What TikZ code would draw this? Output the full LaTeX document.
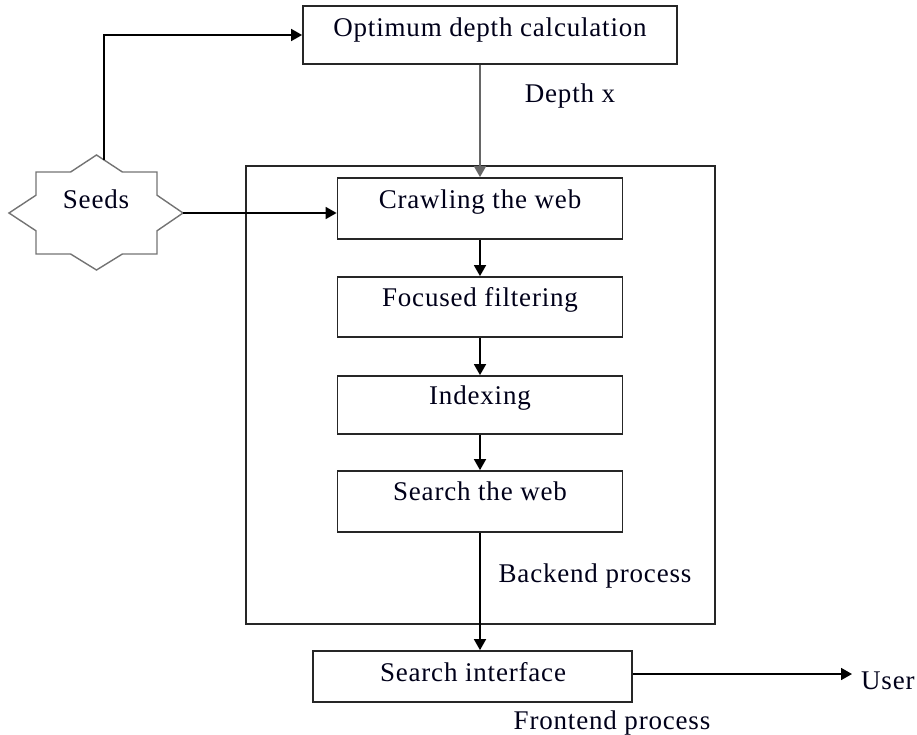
\documentclass[tikz,border=0pt]{standalone}
\usepackage{fontspec}
\setmainfont{Liberation Serif}[LetterSpace=3]
\usetikzlibrary{arrows.meta}
\tikzset{
  box/.style={draw=black!85, line width=1.8pt, rectangle, inner sep=0pt},
  lbl/.style={font=\fontsize{27}{31}\selectfont, text=black!90!blue, inner sep=0pt, anchor=mid},
  conn/.style={draw=black, line width=1.7pt, -{Triangle[length=11pt,width=12pt]}},
}
\begin{document}
\begin{tikzpicture}[x=1pt,y=-1pt]
\useasboundingbox (0,0) rectangle (917,734);
% outer backend box
\node[box, line width=1.5pt, minimum width=469pt, minimum height=458pt] (back) at (480.5,395) {};
% boxes
\node[box, minimum width=374pt, minimum height=58pt] (opt) at (490,35) {};
\node[box, minimum width=285pt, minimum height=61pt] (crawl) at (480,208.5) {};
\node[box, minimum width=285pt, minimum height=60pt] (focus) at (480,307) {};
\node[box, minimum width=285pt, minimum height=58pt] (index) at (480,405) {};
\node[box, minimum width=285pt, minimum height=61pt] (searchweb) at (480,501.5) {};
\node[box, minimum width=319pt, minimum height=51pt] (iface) at (472.5,676.5) {};
% seeds star
\draw[draw=black!55, line width=1.4pt, line join=miter]
  (96.5,155) -- (122.4,172) -- (157,172) -- (157,195.2) -- (183,213) -- (157,230.8)
  -- (157,254) -- (122.4,254) -- (96.5,270) -- (70.6,254) -- (36,254) -- (36,230.8)
  -- (9,213) -- (36,195.2) -- (36,172) -- (70.6,172) -- cycle;
\coordinate (seedtop) at (104,160);
\coordinate (seedright) at (183,213);
\coordinate (user) at (852,674);
% labels
\node[lbl] (optt) at (490,34) {Optimum depth calculation};
\node[lbl] (deptht) at (570,100) {Depth x};
\node[lbl] (seedst) at (96,206) {Seeds};
\node[lbl] (crawlt) at (480,206) {Crawling the web};
\node[lbl] (focust) at (480,304) {Focused filtering};
\node[lbl] (indext) at (480,402) {Indexing};
\node[lbl] (searchwebt) at (480,498) {Search the web};
\node[lbl] (ifacet) at (473,679) {Search interface};
\node[lbl] (backt) at (595,580) {Backend process};
\node[lbl] (frontt) at (612,727) {Frontend process};
\node[lbl, anchor=west] (usert) at (861,681) {User};
% connectors
\draw[conn] (seedtop) |- (opt.west);
\draw[conn, draw=black!60] (opt.south -| crawl.north) -- (crawl.north);
\draw[conn] (seedright) -- (seedright -| crawl.west);
\draw[conn] (crawl.south) -- (focus.north);
\draw[conn] (focus.south) -- (index.north);
\draw[conn] (index.south) -- (searchweb.north);
\draw[conn] (searchweb.south) -- (iface.north -| searchweb.south);
\draw[conn] (iface.east |- user) -- (user);
\end{tikzpicture}
\end{document}
